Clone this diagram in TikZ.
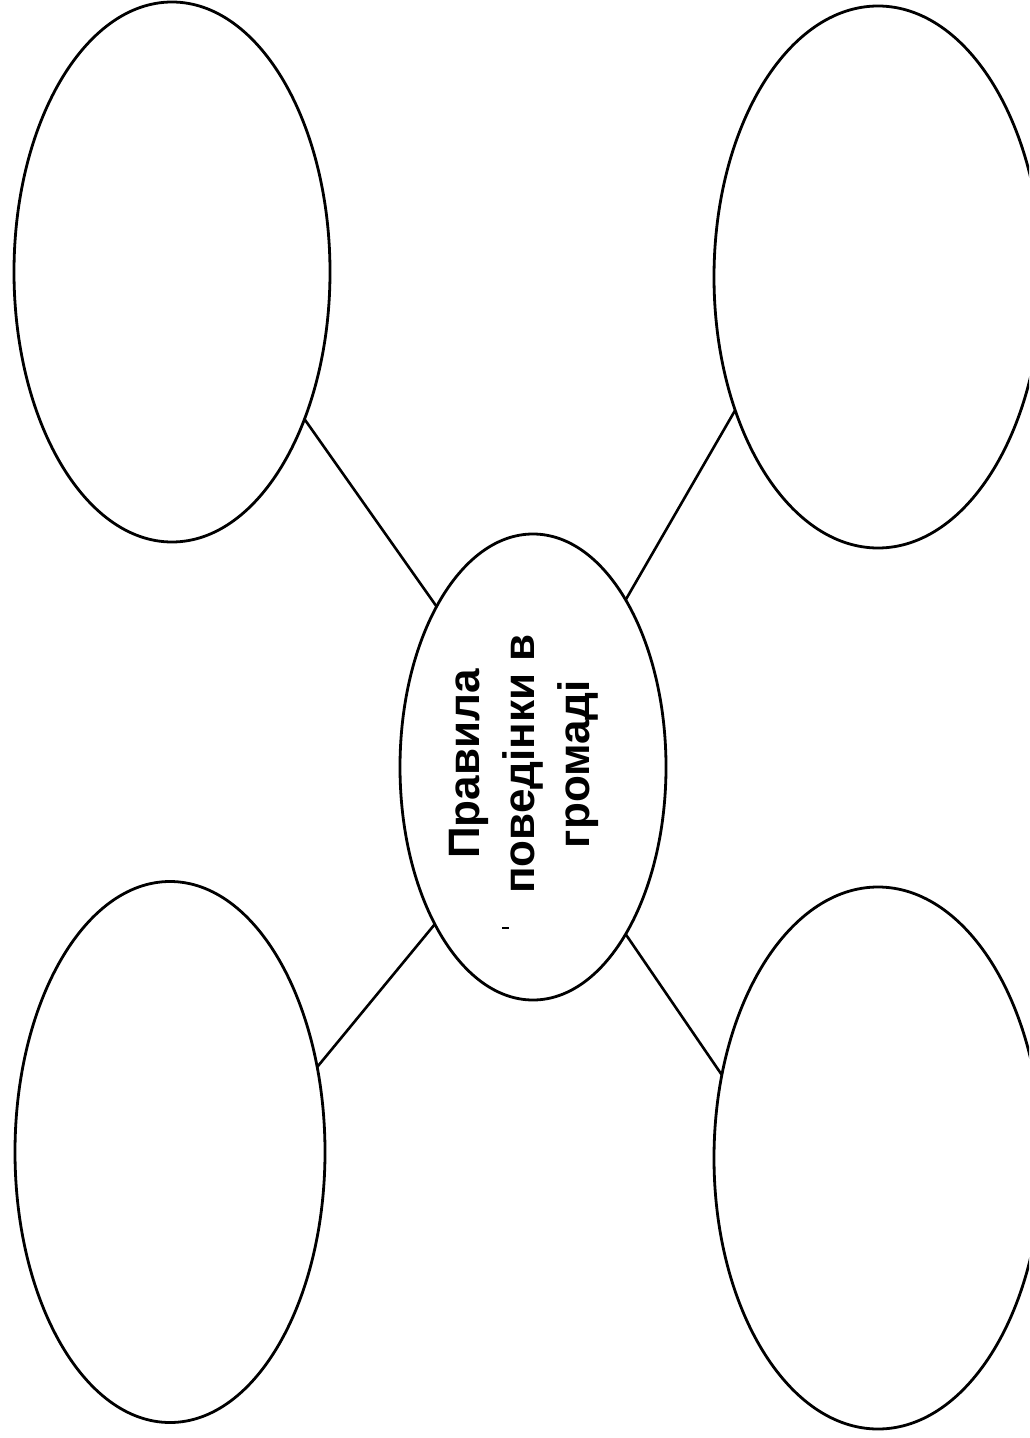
\documentclass[tikz,border=0pt]{standalone}
\usepackage{fontspec}
\setmainfont{Liberation Sans}
\usetikzlibrary{shapes.geometric}
\tikzset{
  oval/.style={draw=black, line width=1.4pt, ellipse, inner sep=0pt, outer sep=0pt},
  link/.style={draw=black, line width=1.3pt},
  title/.style={rotate=90, align=center, font=\fontsize{22}{27.5}\selectfont\bfseries, inner sep=0pt}
}
\begin{document}
\begin{tikzpicture}[x=0.5pt,y=-0.5pt]
\clip (0,0) rectangle (1029,1438);
\fill[white] (0,0) rectangle (1029,1438);
\node[oval, minimum width=158pt, minimum height=270pt] (tl) at (172,272) {};
\node[oval, minimum width=164pt, minimum height=271pt] (tr) at (878,277) {};
\node[oval, minimum width=155pt, minimum height=270.5pt] (bl) at (170,1152) {};
\node[oval, minimum width=164pt, minimum height=271pt] (br) at (878,1158) {};
\node[oval, minimum width=133pt, minimum height=233pt] (c) at (533,767) {};
\node[title] (t) at (524,764) {Правила\\поведінки  в\\громаді};
\draw[link] (tl.-48.3) -- (c.121.4);
\draw[link] (tr.223.6) -- (c.61.1);
\draw[link] (bl.30.4) -- (c.238.1);
\draw[link] (br.152.6) -- (c.-61.3);
\coordinate (d1) at (502,928);
\coordinate (d2) at (509,928);
\draw[line width=1pt] (d1) -- (d2);
\end{tikzpicture}
\end{document}
